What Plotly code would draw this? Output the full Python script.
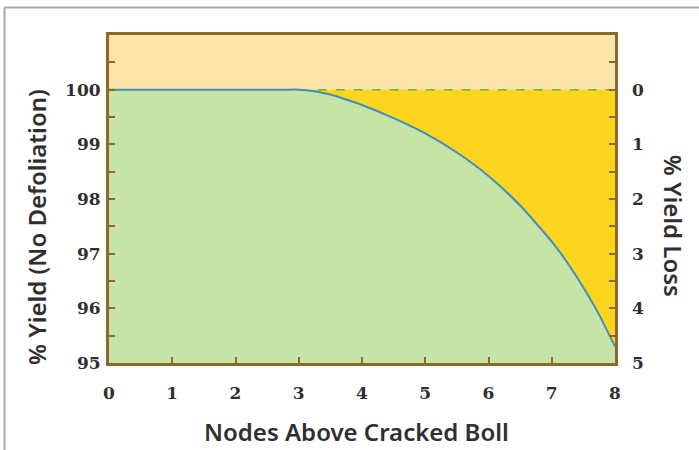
import plotly.graph_objects as go

# data
nodes = [0, 1, 2, 2.75, 3, 3.25, 3.5, 3.75, 4, 4.5, 5, 5.5, 6, 6.5, 7, 7.25, 7.5, 7.75, 8]
yield_pct = [100, 100, 100, 100, 100, 99.97, 99.91, 99.82, 99.72, 99.48, 99.2, 98.85, 98.42,
             97.88, 97.22, 96.83, 96.38, 95.88, 95.3]
baseline = [100] * len(nodes)
dash_x = [3.3, 8]
dash_y = [100, 100]
x_ticks = [0, 1, 2, 3, 4, 5, 6, 7, 8]
y_ticks = [95, 96, 97, 98, 99, 100]
loss_ticks = [5, 4, 3, 2, 1, 0]

BROWN = "#8a6a2c"
TXT = "#2f2f2f"
SERIF = "DejaVu Serif"
SANS = "Noto Sans"

fig = go.Figure()
fig.add_trace(go.Scatter(x=nodes, y=baseline, fill="tozeroy", fillcolor="#fdd51f",
                         line=dict(width=0), mode="lines", hoverinfo="skip", showlegend=False))
fig.add_trace(go.Scatter(x=nodes, y=yield_pct, fill="tozeroy", fillcolor="#c6e4a6",
                         line=dict(color="#3d8ec4", width=2, shape="spline", smoothing=0.6),
                         mode="lines", showlegend=False))
fig.add_trace(go.Scatter(x=dash_x, y=dash_y, mode="lines",
                         line=dict(color="#6cb43c", width=1.5, dash="dash"), showlegend=False))
# invisible trace for right axis
fig.add_trace(go.Scatter(x=[0], y=[0], yaxis="y2", mode="markers",
                         marker=dict(opacity=0), showlegend=False, hoverinfo="skip"))

tickfont = dict(family=SERIF, size=17, color=TXT, weight="bold")
axis_common = dict(showgrid=False, zeroline=False, ticks="inside", ticklen=6, tickwidth=1.5,
                   tickcolor=BROWN, showline=True, linecolor=BROWN, linewidth=3, mirror=True,
                   tickfont=tickfont)

fig.update_layout(
    width=699, height=450,
    margin=dict(l=109, r=84, t=35, b=87),
    paper_bgcolor="white",
    plot_bgcolor="#fde4aa",
    xaxis=dict(range=[0, 8], tickvals=x_ticks, ticklabelstandoff=13, **axis_common),
    yaxis=dict(range=[95, 101], tickvals=y_ticks, ticklabelstandoff=2,
               minor=dict(dtick=0.5, ticks="inside", ticklen=6, tickcolor=BROWN, tickwidth=1.5),
               **axis_common),
    yaxis2=dict(range=[5, -1], overlaying="y", side="right", tickvals=loss_ticks,
                showgrid=False, zeroline=False, ticks="inside", ticklen=6, tickwidth=1.5,
                tickcolor=BROWN, ticklabelstandoff=16,
                minor=dict(dtick=0.5, ticks="inside", ticklen=6, tickcolor=BROWN, tickwidth=1.5),
                tickfont=tickfont),
    annotations=[
        dict(text="Nodes Above Cracked Boll", xref="paper", yref="paper",
             x=0.490, y=-0.210, xanchor="center", yanchor="middle", showarrow=False,
             font=dict(family=SANS, size=24, color=TXT, weight=600)),
        dict(text="% Yield (No Defoliation)", xref="paper", yref="paper",
             x=-0.142, y=0.415, xanchor="center", yanchor="middle", showarrow=False,
             textangle=-90, font=dict(family=SANS, size=24, color=TXT, weight=600)),
        dict(text="% Yield Loss", xref="paper", yref="paper",
             x=1.115, y=0.418, xanchor="center", yanchor="middle", showarrow=False,
             textangle=90, font=dict(family=SANS, size=24, color=TXT, weight=600)),
    ],
    shapes=[
        dict(type="line", xref="paper", yref="paper", x0=-0.2065, x1=1.2, y0=1.084, y1=1.084,
             line=dict(color="#a8a8a8", width=2)),
        dict(type="line", xref="paper", yref="paper", x0=-0.2065, x1=-0.2065, y0=1.084, y1=-0.3,
             line=dict(color="#a8a8a8", width=2)),
    ],
)

fig.write_html("out.html", config={"displayModeBar": False},
               post_script="document.body.style.margin='0';")
